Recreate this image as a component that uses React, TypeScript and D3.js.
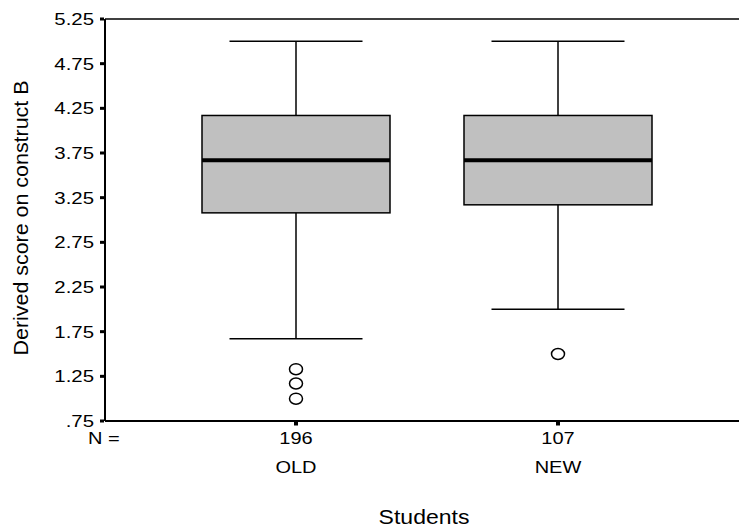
import React from "react";
import * as d3 from "d3";

const categories = ["OLD", "NEW"];
const counts = [196, 107];
const whiskerLow = [1.67, 2.0];
const q1 = [3.08, 3.17];
const median = [3.67, 3.67];
const q3 = [4.17, 4.17];
const whiskerHigh = [5.0, 5.0];
const outliers = [[1.33, 1.17, 1.0], [1.5]];
const yTicks = [0.75, 1.25, 1.75, 2.25, 2.75, 3.25, 3.75, 4.25, 4.75, 5.25];

const W = 739, H = 529;
const left = 105, right = 739, top = 19, bottom = 421;
const font = "Liberation Sans, Arial, sans-serif";

export default function App() {
  const y = d3.scaleLinear().domain([0.75, 5.25]).range([bottom, top]);
  const x = d3.scalePoint<string>().domain(categories).range([296, 558]);
  const boxW = 188;
  const capW = 133;
  const fmt = (v: number) => (v < 1 ? "." + d3.format(".2f")(v).split(".")[1] : d3.format(".2f")(v));
  return (
    <svg width={W} height={H} style={{ position: "absolute", left: 0, top: 0 }} fontFamily={font}>
      <rect width={W} height={H} fill="#fff" />
      <line x1={left} x2={right} y1={top} y2={top} stroke="#000" strokeWidth={1.5} />
      <line x1={left} x2={right} y1={bottom} y2={bottom} stroke="#000" strokeWidth={2} />
      <line x1={left} x2={left} y1={top} y2={bottom} stroke="#000" strokeWidth={2} />
      {yTicks.map((t) => (
        <g key={t}>
          <rect x={left - 5} y={y(t) - 1.5} width={4} height={3} fill="#000" />
          <g transform={`translate(94, ${y(t) + 6}) scale(1.2, 1)`}>
            <text x={0} y={0} textAnchor="end" fontSize={17} fill="#000">
              {fmt(t)}
            </text>
          </g>
        </g>
      ))}
      <g transform={`translate(88, 444) scale(1.25, 1)`}>
        <text x={0} y={0} fontSize={16}>N =</text>
      </g>
      {categories.map((c, i) => {
        const cx = x(c)!;
        return (
          <g key={c}>
            <rect x={cx - 2} y={bottom + 1} width={4} height={3.5} fill="#000" />
            <g transform={`translate(${cx}, 444) scale(1.25, 1)`}>
              <text x={0} y={0} textAnchor="middle" fontSize={16}>{counts[i]}</text>
            </g>
            <g transform={`translate(${cx}, 473) scale(1.25, 1)`}>
              <text x={0} y={0} textAnchor="middle" fontSize={16}>{c}</text>
            </g>
            <line x1={cx} x2={cx} y1={y(whiskerHigh[i])} y2={y(q3[i])} stroke="#000" strokeWidth={1.5} />
            <line x1={cx} x2={cx} y1={y(q1[i])} y2={y(whiskerLow[i])} stroke="#000" strokeWidth={1.5} />
            <line x1={cx - capW / 2} x2={cx + capW / 2} y1={y(whiskerHigh[i])} y2={y(whiskerHigh[i])} stroke="#000" strokeWidth={1.5} />
            <line x1={cx - capW / 2} x2={cx + capW / 2} y1={y(whiskerLow[i])} y2={y(whiskerLow[i])} stroke="#000" strokeWidth={1.5} />
            <rect x={cx - boxW / 2} y={y(q3[i])} width={boxW} height={y(q1[i]) - y(q3[i])} fill="#c0c0c0" stroke="#000" strokeWidth={1.5} />
            <line x1={cx - boxW / 2} x2={cx + boxW / 2} y1={y(median[i])} y2={y(median[i])} stroke="#000" strokeWidth={4} />
            {outliers[i].map((o, j) => (
              <ellipse key={j} cx={cx} cy={y(o)} rx={6.5} ry={5.5} fill="none" stroke="#000" strokeWidth={1.5} />
            ))}
          </g>
        );
      })}
      <g transform={`translate(424, 524) scale(1.15, 1)`}>
        <text x={0} y={0} textAnchor="middle" fontSize={20}>Students</text>
      </g>
      <g transform={`translate(28, 218) rotate(-90)`}>
        <text x={0} y={0} textAnchor="middle" fontSize={19.5} textLength={275} lengthAdjust="spacingAndGlyphs">
          Derived score on construct B
        </text>
      </g>
    </svg>
  );
}
